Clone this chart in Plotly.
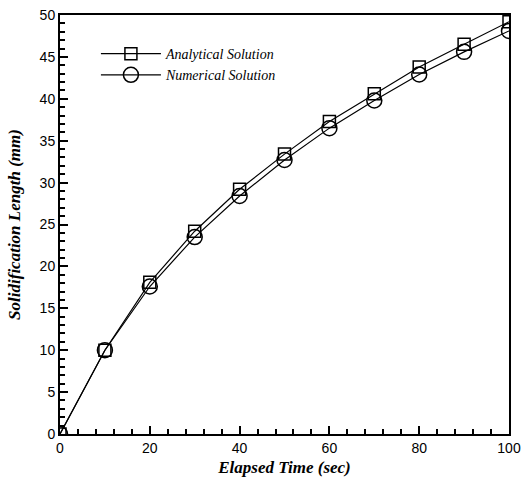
import plotly.graph_objects as go

time_s = [0, 10, 20, 30, 40, 50, 60, 70, 80, 90, 100]
analytical = [0, 10.0, 18.1, 24.2, 29.2, 33.4, 37.3, 40.6, 43.8, 46.5, 49.2]
numerical = [0, 10.0, 17.6, 23.5, 28.4, 32.7, 36.5, 39.8, 42.9, 45.6, 48.1]

fig = go.Figure()
fig.add_trace(go.Scatter(
    x=time_s, y=analytical, mode="lines+markers", name="Analytical Solution",
    line=dict(color="black", width=1.2),
    marker=dict(symbol="square-open", size=12, color="black", line=dict(width=1.5))))
fig.add_trace(go.Scatter(
    x=time_s, y=numerical, mode="lines+markers", name="Numerical Solution",
    line=dict(color="black", width=1.2),
    marker=dict(symbol="circle-open", size=15, color="black", line=dict(width=1.5))))

axis_common = dict(
    showline=True, linecolor="black", linewidth=2, mirror=True,
    ticks="inside", ticklen=8, tickwidth=2, tickcolor="black",
    showgrid=False, zeroline=False, automargin=False,
    tickfont=dict(family="Liberation Sans, Arial", size=14, color="black"),
)

fig.update_xaxes(range=[0, 100], dtick=20, tick0=0,
                 minor=dict(ticks="inside", dtick=4, ticklen=5, tickwidth=1.5, tickcolor="black"),
                 title=dict(text="<b><i>Elapsed Time (sec)</i></b>",
                            font=dict(family="Liberation Serif, Times New Roman", size=17, color="black")),
                 **axis_common)
fig.update_yaxes(range=[0, 50], dtick=5, tick0=0,
                 minor=dict(ticks="inside", dtick=1, ticklen=5, tickwidth=1.5, tickcolor="black"),
                 title=dict(text="<b><i>Solidification Length (mm)</i></b>",
                            font=dict(family="Liberation Serif, Times New Roman", size=17, color="black")),
                 **axis_common)

fig.update_layout(
    width=529, height=477,
    margin=dict(l=60, r=20, t=15, b=43),
    paper_bgcolor="white", plot_bgcolor="white",
    legend=dict(x=0.08, y=0.945, xanchor="left", yanchor="top",
                bgcolor="rgba(0,0,0,0)",
                font=dict(family="Liberation Serif, Times New Roman", size=14, color="black",
                          style="italic"),
                itemwidth=60),
)

fig.write_html("out.html", config={"displayModeBar": False},
               post_script="document.body.style.margin='0';document.body.style.padding='0';")
